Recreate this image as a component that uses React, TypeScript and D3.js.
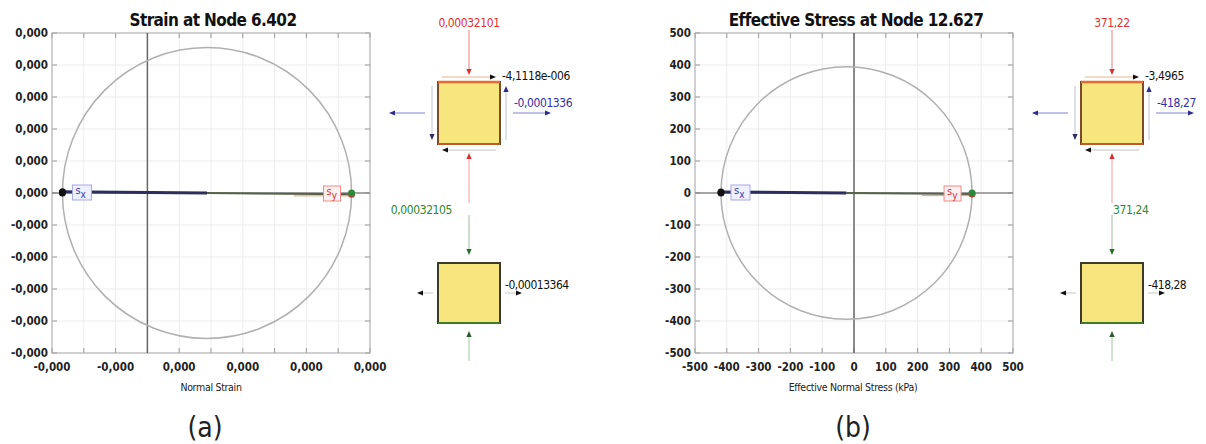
import React from "react";
import * as d3 from "d3";

// ---------- data ----------
// strain state [eps_x, eps_y, gamma_xy]
const strainState = [-0.0001336, 0.00032101, -4.1118e-6];
const strainPrincipal = [0.00032105, -0.00013364];
const strainXTicks = [-0.00015, -0.0001, -0.00005, 0, 0.00005, 0.0001, 0.00015, 0.0002, 0.00025, 0.0003, 0.00035];
const strainXLabelTicks = [-0.00015, -0.00005, 0.00005, 0.00015, 0.00025, 0.00035];
const strainYTicks = [-0.00025, -0.0002, -0.00015, -0.0001, -0.00005, 0, 0.00005, 0.0001, 0.00015, 0.0002, 0.00025];
const strainLabels = ["0,00032101", "-4,1118e-006", "-0,0001336", "0,00032105", "-0,00013364"];

// stress state [sigma_x, sigma_y, tau_xy] (kPa)
const stressState = [-418.27, 371.22, -3.4965];
const stressPrincipal = [371.24, -418.28];
const stressTicks = [-500, -400, -300, -200, -100, 0, 100, 200, 300, 400, 500];
const stressLabels = ["371,22", "-3,4965", "-418,27", "371,24", "-418,28"];

const titles = ["Strain at Node 6.402", "Effective Stress at Node 12.627"];
const axisTitles = ["Normal Strain", "Effective Normal Stress (kPa)"];
const captions = ["(a)", "(b)"];

const FONT = "'DejaVu Sans Condensed', 'Liberation Sans Narrow', 'DejaVu Sans', sans-serif";
const NARROW = "'Liberation Sans Narrow', 'DejaVu Sans Condensed', sans-serif";

const fmtStrain = (v: number) => (v < 0 ? "-" : "") + Math.abs(v).toFixed(3).replace(".", ",");
const fmtStress = (v: number) => (v < 0 ? "-" : "") + Math.abs(v).toFixed(0);

function Arrow({ x1, y1, x2, y2, line, head }: any) {
  const a = Math.atan2(y2 - y1, x2 - x1);
  const L = 6, Wd = 2.6;
  const bx = x2 - L * Math.cos(a), by = y2 - L * Math.sin(a);
  const p = [
    [x2, y2],
    [bx + Wd * Math.sin(a), by - Wd * Math.cos(a)],
    [bx - Wd * Math.sin(a), by + Wd * Math.cos(a)],
  ];
  return (
    <g>
      <line x1={x1} y1={y1} x2={bx} y2={by} stroke={line} strokeWidth={1} />
      <path d={d3.line()(p as any) + "Z"} fill={head} />
    </g>
  );
}

function MohrChart(props: any) {
  const { x0, x1, y0, y1, xDomain, yDomain, xTicks, xLabelTicks, yTicks, fmt, title, xTitle, caption, state, principal, shearFactor } = props;
  const x = d3.scaleLinear().domain(xDomain).range([x0, x1]);
  const y = d3.scaleLinear().domain(yDomain).range([y1, y0]);
  const [sx, sy, t0] = state;
  const txy = t0 * shearFactor;
  const c = (sx + sy) / 2;
  const R = Math.sqrt(((sx - sy) / 2) ** 2 + txy ** 2);
  const cxp = (x0 + x1) / 2;
  const pA = [x(sx), y(-txy)];
  const pB = [x(sy), y(txy)];
  const pC = [x(c), y(0)];
  return (
    <g>
      {xTicks.map((t: number, i: number) => (
        <line key={"gx" + i} x1={x(t)} x2={x(t)} y1={y0} y2={y1} stroke="#ededed" strokeWidth={1} />
      ))}
      {yTicks.map((t: number, i: number) => (
        <line key={"gy" + i} x1={x0} x2={x1} y1={y(t)} y2={y(t)} stroke="#ededed" strokeWidth={1} />
      ))}
      {xTicks.map((t: number, i: number) => (
        <g key={"tx" + i} stroke="#999" strokeWidth={1}>
          <line x1={x(t)} x2={x(t)} y1={y0} y2={y0 + 5} />
          <line x1={x(t)} x2={x(t)} y1={y1} y2={y1 - 5} />
        </g>
      ))}
      {yTicks.map((t: number, i: number) => (
        <g key={"ty" + i} stroke="#999" strokeWidth={1}>
          <line x1={x0} x2={x0 + 5} y1={y(t)} y2={y(t)} />
          <line x1={x1} x2={x1 - 5} y1={y(t)} y2={y(t)} />
        </g>
      ))}
      <rect x={x0} y={y0} width={x1 - x0} height={y1 - y0} fill="none" stroke="#aaa" strokeWidth={1} />
      <line x1={x0} x2={x1} y1={y(0)} y2={y(0)} stroke="#8a8a8a" strokeWidth={1.5} />
      <line x1={x(0)} x2={x(0)} y1={y0} y2={y1} stroke="#666" strokeWidth={1.5} />
      <ellipse cx={x(c)} cy={y(0)} rx={Math.abs(x(c + R) - x(c))} ry={Math.abs(y(R) - y(0))} fill="none" stroke="#b0b0b0" strokeWidth={1.5} />
      <line x1={pA[0]} y1={pA[1]} x2={pC[0]} y2={pC[1]} stroke="#2c2f5e" strokeWidth={3} />
      <line x1={pC[0]} y1={pC[1]} x2={pB[0]} y2={pB[1]} stroke="#5a6048" strokeWidth={2} />
      <line x1={x(c + (sy - c) * 0.6)} y1={y(txy) + 1.5} x2={pB[0]} y2={pB[1] + 1.5} stroke="#e07040" strokeWidth={1} opacity={0.7} />
      <circle cx={x(principal[1])} cy={y(0)} r={3.5} fill="#111" />
      <circle cx={pA[0]} cy={pA[1]} r={3.5} fill="#111" />
      <circle cx={pB[0]} cy={pB[1]} r={3.5} fill="#d83030" />
      <circle cx={x(principal[0])} cy={y(0)} r={3.5} fill="#2a8a3a" />
      <g>
        <rect x={pA[0] + 10} y={y(0) - 8} width={19} height={15} fill="#eef0ff" stroke="#a8a8e8" strokeWidth={1} />
        <text x={pA[0] + 13} y={y(0) + 1} fontFamily={FONT} fontSize={11} fill="#3838b8">
          s<tspan dy={4} fontSize={10}>x</tspan>
        </text>
        <rect x={pB[0] - 28} y={y(0) - 7} width={17} height={15} fill="#fff0f0" stroke="#f08a8a" strokeWidth={1} />
        <text x={pB[0] - 25} y={y(0) + 2} fontFamily={FONT} fontSize={11} fill="#d83030">
          s<tspan dy={4} fontSize={10}>y</tspan>
        </text>
      </g>
      {yTicks.map((t: number, i: number) => (
        <text key={"ly" + i} x={x0 - 4} y={y(t)} dy="0.35em" textAnchor="end" fontFamily={FONT} fontSize={11.5} fontWeight={600} fill="#222">
          {fmt(t)}
        </text>
      ))}
      {xLabelTicks.map((t: number, i: number) => (
        <text key={"lx" + i} x={x(t)} y={y1 + 18} textAnchor="middle" fontFamily={FONT} fontSize={11.5} fontWeight={600} fill="#222">
          {fmt(t)}
        </text>
      ))}
      <text x={cxp + 2} y={y0 - 7} textAnchor="middle" fontFamily={FONT} fontSize={17} fontWeight="bold" fill="#111" letterSpacing={-0.6}>
        {title}
      </text>
      <text x={props.xTitleX} y={y1 + 38} textAnchor="middle" fontFamily={FONT} fontSize={10.5} fill="#222" letterSpacing={-0.3}>
        {xTitle}
      </text>
      <text x={props.capX} y={437} textAnchor="middle" fontFamily={NARROW} fontSize={28} fill="#222">
        {caption}
      </text>
    </g>
  );
}

function Element(props: any) {
  const { cx, cy, labels, greenAnchor } = props;
  const h = 31;
  const cy2 = cy + 180;
  return (
    <g fontFamily={FONT} fontSize={12}>
      <Arrow x1={cx} y1={cy - 83} x2={cx} y2={cy - 38} line="#e88080" head="#d83030" />
      <text x={cx} y={cy - 86} textAnchor="middle" fill="#e03030" letterSpacing={-0.4}>{labels[0]}</text>
      <Arrow x1={cx} y1={cy + 90} x2={cx} y2={cy + 40} line="#f0a0a0" head="#d83030" />
      <Arrow x1={cx - 44} y1={cy} x2={cx - 80} y2={cy} line="#8080d0" head="#2c2c90" />
      <Arrow x1={cx + 44} y1={cy} x2={cx + 82} y2={cy} line="#8080d0" head="#2c2c90" />
      <Arrow x1={cx - 27} y1={cy - 36} x2={cx + 27} y2={cy - 36} line="#e8b090" head="#111" />
      <Arrow x1={cx + 37} y1={cy + 27} x2={cx + 37} y2={cy - 27} line="#c0c0d8" head="#2c2c90" />
      <Arrow x1={cx + 27} y1={cy + 37} x2={cx - 27} y2={cy + 37} line="#c0c0c0" head="#111" />
      <Arrow x1={cx - 37} y1={cy - 27} x2={cx - 37} y2={cy + 27} line="#c0c0d8" head="#2c2c60" />
      <rect x={cx - h} y={cy - h} width={2 * h} height={2 * h} fill="#f7e57e" stroke="#7a4a2a" strokeWidth={2} />
      <line x1={cx - h} x2={cx + h} y1={cy - h} y2={cy - h} stroke="#e86a30" strokeWidth={2.5} />
      <line x1={cx - h} x2={cx + h} y1={cy + h} y2={cy + h} stroke="#c05a2a" strokeWidth={2} />
      <text x={cx + 33} y={cy - 33} fill="#111" letterSpacing={-0.4}>{labels[1]}</text>
      <text x={cx + 45} y={cy - 6} fill="#3030a8" letterSpacing={-0.4}>{labels[2]}</text>

      <Arrow x1={cx} y1={cy2 - 78} x2={cx} y2={cy2 - 38} line="#a0b8a0" head="#2a6a2a" />
      <text x={greenAnchor === "end" ? cx - 17 : cx + 1} y={cy2 - 79} textAnchor={greenAnchor} fill="#2a8a2a" letterSpacing={-0.4}>{labels[3]}</text>
      <Arrow x1={cx} y1={cy2 + 68} x2={cx} y2={cy2 + 38} line="#a0c8a0" head="#2a5a2a" />
      <Arrow x1={cx - 36} y1={cy2} x2={cx - 52} y2={cy2} line="#c8c8c8" head="#111" />
      <Arrow x1={cx + 36} y1={cy2} x2={cx + 53} y2={cy2} line="#c8c8c8" head="#111" />
      <rect x={cx - h} y={cy2 - h + 1} width={2 * h} height={2 * h - 2} fill="#f7e57e" stroke="#3a3a2a" strokeWidth={2} />
      <line x1={cx - h} x2={cx + h} y1={cy2 + h - 1} y2={cy2 + h - 1} stroke="#3f7a28" strokeWidth={2} />
      <text x={cx + 36} y={cy2 - 4} fill="#111" letterSpacing={-0.5}>{labels[4]}</text>
    </g>
  );
}

export default function App() {
  return (
    <svg width={1206} height={444} style={{ position: "absolute", left: 0, top: 0, background: "#fff" }}>
      <rect width={1206} height={444} fill="#fff" />
      <MohrChart
        x0={52} x1={370} y0={33} y1={353}
        xDomain={[-0.00015, 0.00035]} yDomain={[-0.00025, 0.00025]}
        xTicks={strainXTicks} xLabelTicks={strainXLabelTicks} yTicks={strainYTicks}
        fmt={fmtStrain} title={titles[0]} xTitle={axisTitles[0]} caption={captions[0]}
        xTitleX={211} capX={205} shearFactor={0.5}
        state={strainState} principal={strainPrincipal}
      />
      <MohrChart
        x0={695} x1={1013} y0={33} y1={353}
        xDomain={[-500, 500]} yDomain={[-500, 500]}
        xTicks={stressTicks} xLabelTicks={stressTicks} yTicks={stressTicks}
        fmt={fmtStress} title={titles[1]} xTitle={axisTitles[1]} caption={captions[1]}
        xTitleX={853} capX={853} shearFactor={1}
        state={stressState} principal={stressPrincipal}
      />
      <Element cx={469} cy={113} labels={strainLabels} greenAnchor="end" />
      <Element cx={1112} cy={113} labels={stressLabels} greenAnchor="start" />
    </svg>
  );
}
